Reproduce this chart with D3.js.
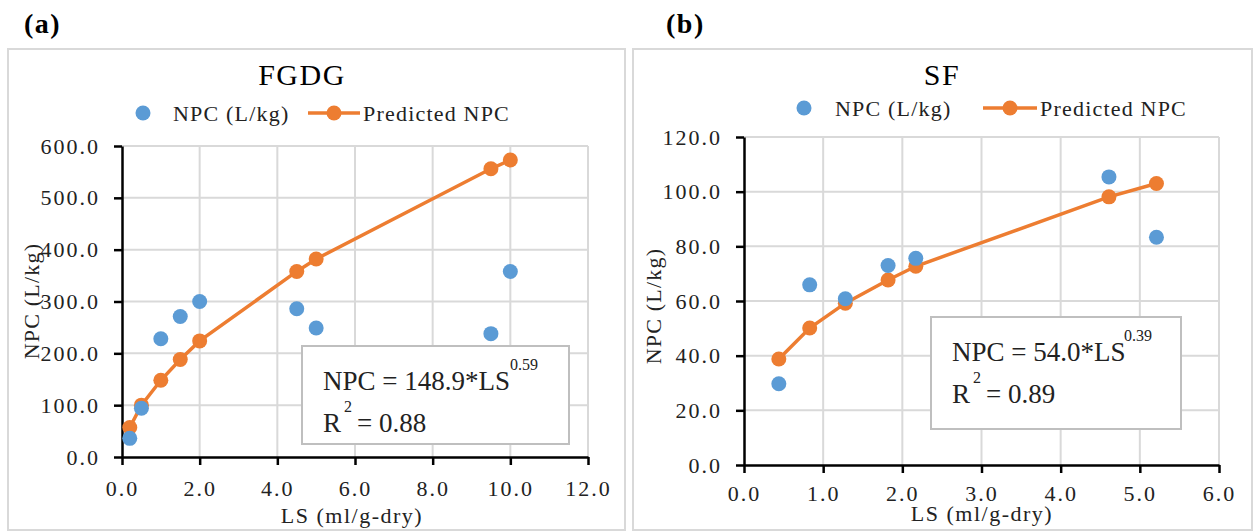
<!DOCTYPE html>
<html>
<head>
<meta charset="utf-8">
<script src="https://cdn.jsdelivr.net/npm/d3@7"></script>
<style>
  body { margin: 0; background: #fff; }
  svg { display: block; font-family: "Liberation Serif", "Times New Roman", serif; }
</style>
</head>
<body>
<svg id="chart" width="1256" height="531"></svg>
<script>
// FGDG panel data
const fgdgLS = [0.2, 0.5, 1.0, 1.5, 2.0, 4.5, 5.0, 9.5, 10.0];
const fgdgNPC = [36, 94, 228, 271, 300, 286, 249, 238, 358];
const fgdgPred = [57, 100, 148, 188, 224, 358, 382, 556, 573];
const fgdgXTicks = [0, 2, 4, 6, 8, 10, 12];
const fgdgYTicks = [0, 100, 200, 300, 400, 500, 600];

// SF panel data
const sfLS = [0.44, 0.83, 1.28, 1.82, 2.17, 4.61, 5.21];
const sfNPC = [29.7, 65.9, 60.8, 73.0, 75.6, 105.4, 83.3];
const sfPred = [38.8, 50.1, 59.2, 67.7, 72.7, 98.1, 103.0];
const sfXTicks = [0, 1, 2, 3, 4, 5, 6];
const sfYTicks = [0, 20, 40, 60, 80, 100, 120];

const BLUE = "#5b9bd5", ORANGE = "#ed7d31", GRID = "#d9d9d9";
const fmt = d3.format(".1f");

const svg = d3.select("#chart");

function drawPanel(p) {
    const g = svg.append("g");

    // panel frame
    g.append("rect")
        .attr("x", p.frame[0]).attr("y", p.frame[1])
        .attr("width", p.frame[2]).attr("height", p.frame[3])
        .attr("fill", "none").attr("stroke", GRID).attr("stroke-width", 2);

    // panel letter
    g.append("text")
        .attr("x", p.letterX).attr("y", 33)
        .style("font-size", "28px").style("font-weight", "bold")
        .style("letter-spacing", "1.5px")
        .text(p.letter);

    // title
    g.append("text")
        .attr("x", p.titleX).attr("y", 85)
        .attr("text-anchor", "middle")
        .style("font-size", "30px").style("letter-spacing", "1.5px")
        .text(p.title);

    const x = d3.scaleLinear().domain(p.xDomain).range([p.left, p.right]);
    const y = d3.scaleLinear().domain(p.yDomain).range([p.bottom, p.top]);

    // grid lines
    g.append("g").selectAll("line.v")
        .data(p.xTicks.slice(1))
        .enter().append("line")
        .attr("x1", d => x(d)).attr("x2", d => x(d))
        .attr("y1", p.top).attr("y2", p.bottom)
        .attr("stroke", GRID).attr("stroke-width", 2);
    g.append("g").selectAll("line.h")
        .data(p.yTicks.slice(1))
        .enter().append("line")
        .attr("x1", p.left).attr("x2", p.right)
        .attr("y1", d => y(d)).attr("y2", d => y(d))
        .attr("stroke", GRID).attr("stroke-width", 2);

    // axes
    const xAxis = g.append("g")
        .attr("transform", `translate(0, ${p.bottom})`)
        .call(d3.axisBottom(x).tickValues(p.xTicks).tickFormat(fmt)
            .tickSize(8).tickSizeOuter(0).tickPadding(p.xPad));
    const yAxis = g.append("g")
        .attr("transform", `translate(${p.left}, 0)`)
        .call(d3.axisLeft(y).tickValues(p.yTicks).tickFormat(fmt)
            .tickSize(8).tickSizeOuter(0).tickPadding(14));
    [xAxis, yAxis].forEach(a => {
        a.attr("font-family", null);
        a.select(".domain").attr("stroke", "#000").attr("stroke-width", 2.5);
        a.selectAll(".tick line").attr("stroke", "#000").attr("stroke-width", 2.5);
        a.selectAll(".tick text")
            .attr("fill", "#222")
            .style("font-size", "22px").style("letter-spacing", "2px");
    });

    // axis titles
    g.append("text")
        .attr("x", p.xTitleX).attr("y", p.xTitleY)
        .attr("text-anchor", "middle").attr("fill", "#222")
        .style("font-size", "22px").style("letter-spacing", "1.5px")
        .text("LS  (ml/g-dry)");
    g.append("text")
        .attr("transform", `translate(${p.yTitleX}, ${p.yTitleY}) rotate(-90)`)
        .attr("text-anchor", "middle").attr("dy", "0.35em").attr("fill", "#222")
        .style("font-size", "22px").style("letter-spacing", "1.2px")
        .text("NPC (L/kg)");

    // equation box
    const b = p.eqBox;
    g.append("rect")
        .attr("x", b[0]).attr("y", b[1]).attr("width", b[2]).attr("height", b[3])
        .attr("fill", "#fff").attr("stroke", "#bfbfbf").attr("stroke-width", 2);
    const tx = b[0] + 21;
    g.append("text").attr("x", tx).attr("y", b[1] + 44)
        .style("font-size", "27px").attr("fill", "#222").text(p.eq);
    g.append("text").attr("x", p.expX).attr("y", b[1] + 24)
        .style("font-size", "16px").attr("fill", "#222").text(p.exp);
    g.append("text").attr("x", tx).attr("y", b[1] + 86)
        .style("font-size", "27px").attr("fill", "#222").text("R");
    g.append("text").attr("x", tx + 21).attr("y", b[1] + 66)
        .style("font-size", "16px").attr("fill", "#222").text("2");
    g.append("text").attr("x", tx + 34).attr("y", b[1] + 86)
        .style("font-size", "27px").attr("fill", "#222").text(p.r2);

    // predicted series: line + markers
    const pred = p.ls.map((d, i) => [d, p.pred[i]]);
    g.append("path")
        .datum(pred)
        .attr("fill", "none").attr("stroke", ORANGE).attr("stroke-width", 3.5)
        .attr("d", d3.line().x(d => x(d[0])).y(d => y(d[1])));
    g.append("g").selectAll("circle")
        .data(pred)
        .enter().append("circle")
        .attr("cx", d => x(d[0])).attr("cy", d => y(d[1]))
        .attr("r", 7.5).attr("fill", ORANGE);

    // observed series
    g.append("g").selectAll("circle")
        .data(p.ls.map((d, i) => [d, p.obs[i]]))
        .enter().append("circle")
        .attr("cx", d => x(d[0])).attr("cy", d => y(d[1]))
        .attr("r", 7.5).attr("fill", BLUE);

    // legend
    const L = p.legend;
    g.append("circle").attr("cx", L.dot).attr("cy", L.y).attr("r", 7.5).attr("fill", BLUE);
    g.append("text").attr("x", L.text1).attr("y", L.y + 8)
        .style("font-size", "22px").style("letter-spacing", "1.2px").attr("fill", "#222")
        .text("NPC (L/kg)");
    g.append("line").attr("x1", L.line[0]).attr("x2", L.line[1])
        .attr("y1", L.y).attr("y2", L.y)
        .attr("stroke", ORANGE).attr("stroke-width", 3.5);
    g.append("circle").attr("cx", (L.line[0] + L.line[1]) / 2).attr("cy", L.y)
        .attr("r", 7.5).attr("fill", ORANGE);
    g.append("text").attr("x", L.text2).attr("y", L.y + 8)
        .style("font-size", "22px").style("letter-spacing", "1.2px").attr("fill", "#222")
        .text("Predicted NPC");
}

drawPanel({
    frame: [8, 49, 617, 481],
    letter: "(a)", letterX: 24,
    title: "FGDG", titleX: 302,
    xDomain: [0, 12], yDomain: [0, 600],
    left: 122, right: 588, top: 146, bottom: 457,
    xTicks: fgdgXTicks, yTicks: fgdgYTicks, xPad: 15,
    xTitleX: 352, xTitleY: 523, yTitleX: 31, yTitleY: 301,
    ls: fgdgLS, obs: fgdgNPC, pred: fgdgPred,
    eqBox: [302, 346, 267, 98],
    eq: "NPC = 148.9*LS", exp: "0.59", expX: 510, r2: "= 0.88",
    legend: { y: 113, dot: 143, text1: 173, line: [308, 360], text2: 363 }
});

drawPanel({
    frame: [633, 49, 619, 481],
    letter: "(b)", letterX: 666,
    title: "SF", titleX: 942,
    xDomain: [0, 6], yDomain: [0, 120],
    left: 744, right: 1219, top: 137, bottom: 465,
    xTicks: sfXTicks, yTicks: sfYTicks, xPad: 12,
    xTitleX: 982, xTitleY: 521, yTitleX: 653, yTitleY: 306,
    ls: sfLS, obs: sfNPC, pred: sfPred,
    eqBox: [931, 317, 250, 112],
    eq: "NPC = 54.0*LS", exp: "0.39", expX: 1124, r2: "= 0.89",
    legend: { y: 108, dot: 804, text1: 835, line: [983, 1037], text2: 1040 }
});
</script>
</body>
</html>
